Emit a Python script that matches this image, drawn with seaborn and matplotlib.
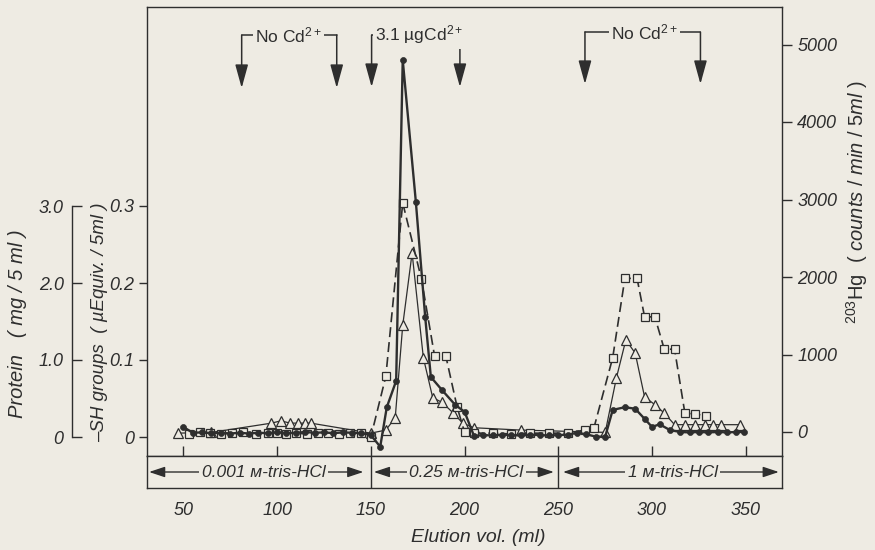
import matplotlib
matplotlib.use("Agg")
import matplotlib.pyplot as plt
import matplotlib.transforms as mtransforms
import seaborn as sns

# ---------------- data ----------------
# 203Hg radioactivity (filled circles, right axis)
hg_vol = [50, 55, 60, 65, 70, 75, 80, 85, 90, 95, 100, 105, 110, 115, 120, 125, 130, 135, 140, 145, 150, 155,
          158.5, 163.5, 167, 174, 179, 182, 188, 195, 200,
          205, 210, 215, 220, 225, 230, 235, 240, 245, 250, 255, 260, 265, 270, 275,
          279, 285.5, 291, 296, 300, 304, 309.5,
          315, 320, 325, 330, 335, 340, 345, 349]
hg_counts = [65, -10, -5, -15, -10, -20, -10, -20, -10, -15, -5, -15, -10, 0, -10, -5, -15, -5, -10, -15, -40, -190,
             320, 660, 4800, 2970, 1480, 710, 540, 350, 260,
             -50, -40, -45, -35, -40, -45, -35, -40, -45, -40, -35, -10, -30, -60, -60,
             285, 320, 300, 170, 65, 100, 25,
             0, -5, 0, -5, 0, -5, 0, 0]

# Protein (open squares, dashed)
prot_vol = [53, 59, 64, 70, 76, 82, 89, 95, 100, 105, 110, 116, 122, 127, 133, 139, 145,
            150, 158, 167, 177, 184, 190, 196, 200,
            205, 215, 225, 235, 245, 255, 264, 269,
            279, 285.5, 292, 296, 301.5, 306.5, 312, 317.5, 323, 329]
prot_mg = [0.04, 0.06, 0.05, 0.04, 0.05, 0.06, 0.04, 0.05, 0.05, 0.04, 0.05, 0.04, 0.05, 0.05, 0.04, 0.05, 0.05,
           0.0, 0.79, 3.04, 2.05, 1.05, 1.05, 0.39, 0.06,
           0.05, 0.05, 0.04, 0.05, 0.05, 0.05, 0.09, 0.12,
           1.03, 2.06, 2.06, 1.56, 1.56, 1.14, 1.14, 0.31, 0.30, 0.27]

# -SH groups (open triangles, thin line)
sh_vol = [47, 65, 97, 102, 107, 111, 115, 118, 150,
          158, 163, 167, 172, 178, 183, 188, 194, 199,
          205, 230, 275,
          281, 286, 291, 296, 301.5, 306.5,
          312, 317.5, 323, 328, 332.5, 337, 347]
sh_uequiv = [0.005, 0.006, 0.018, 0.021, 0.018, 0.018, 0.018, 0.018, 0.005,
             0.009, 0.025, 0.145, 0.239, 0.103, 0.051, 0.045, 0.031, 0.018,
             0.012, 0.009, 0.006,
             0.077, 0.126, 0.109, 0.052, 0.042, 0.031,
             0.016, 0.016, 0.016, 0.016, 0.016, 0.016, 0.016]

x_ticks = [50, 100, 150, 200, 250, 300, 350]
sh_ticks = [0, 0.1, 0.2, 0.3]
sh_ticklabels = ["0", "0.1", "0.2", "0.3"]
prot_ticks = [0, 1, 2, 3]
prot_ticklabels = ["0", "1.0", "2.0", "3.0"]
hg_ticks = [0, 1000, 2000, 3000, 4000, 5000]
hg_ticklabels = ["0", "1000", "2000", "3000", "4000", "5000"]

buffer_dividers = [150, 250]
buffer_labels = ["0.001 м-tris-HCl", "0.25 м-tris-HCl", "1 м-tris-HCl"]
buffer_arrows = [(31.7, 92.7, 146.0), (151.6, 201.0, 247.6), (252.5, 311.0, 367.6)]

cd_labels = [r"No Cd$^{\mathrm{2+}}$", r"3.1 µgCd$^{\mathrm{2+}}$", r"No Cd$^{\mathrm{2+}}$"]
cd_ranges = [(81.1, 105.9, 131.8), (150.4, 176.0, 197.5), (264.2, 296.0, 325.8)]

# ---------------- style ----------------
BG = "#eeebe3"
INK = "#2e2e2e"
sns.set_style("white")
plt.rcParams.update({
    "font.family": ["Liberation Sans", "DejaVu Sans"],
    "mathtext.fontset": "custom",
    "mathtext.rm": "Liberation Sans",
    "mathtext.it": "Liberation Sans:italic",
    "mathtext.bf": "Liberation Sans:bold",
    "axes.edgecolor": INK,
    "axes.linewidth": 1.0,
    "xtick.color": INK,
    "ytick.color": INK,
    "text.color": INK,
})

W, H = 875, 550
fig = plt.figure(figsize=(W / 100, H / 100), dpi=100, facecolor=BG)


def fx(px):
    return px / W


def fy(py):
    return 1 - py / H


L, R, T, B, BB = 147, 782, 7, 456, 488
rect = [fx(L), fy(B), fx(R) - fx(L), fy(T) - fy(B)]
XLIM = (30.6, 369.3)

# main axis: -SH groups scale (left box edge)
ax = fig.add_axes(rect)
ax.set_facecolor(BG)
ax.set_xlim(*XLIM)
sh_lo, sh_hi = -(B - 437) / 770.0, (437 - T) / 770.0
ax.set_ylim(sh_lo, sh_hi)

# protein axis (detached left spine)
ax_p = fig.add_axes(rect)
ax_p.patch.set_visible(False)
ax_p.set_xlim(*XLIM)
ax_p.set_ylim(sh_lo * 10, sh_hi * 10)

# Hg axis (right box edge)
ax_h = fig.add_axes(rect)
ax_h.patch.set_visible(False)
ax_h.set_xlim(*XLIM)
hg_lo, hg_hi = -(B - 432) / 0.0775, (432 - T) / 0.0775
ax_h.set_ylim(hg_lo, hg_hi)

# ---------------- data ----------------
sns.lineplot(x=sh_vol, y=sh_uequiv, ax=ax, sort=False, estimator=None,
             color=INK, lw=0.9, marker="^", markersize=6.5,
             markerfacecolor=BG, markeredgecolor=INK, markeredgewidth=0.9, zorder=3)
sns.lineplot(x=prot_vol, y=prot_mg, ax=ax_p, sort=False, estimator=None,
             color=INK, lw=1.2, linestyle=(0, (6, 3)), marker="s", markersize=5.2,
             markerfacecolor=BG, markeredgecolor=INK, markeredgewidth=0.9, zorder=3)
sns.lineplot(x=hg_vol, y=hg_counts, ax=ax_h, sort=False, estimator=None,
             color=INK, lw=1.7, marker="o", markersize=4.3,
             markerfacecolor=INK, markeredgecolor=INK, markeredgewidth=0.5, zorder=4)

for a in (ax, ax_p, ax_h):
    a.set_xlim(*XLIM)
ax.set_ylim(sh_lo, sh_hi)
ax_p.set_ylim(sh_lo * 10, sh_hi * 10)
ax_h.set_ylim(hg_lo, hg_hi)

# main axis ticks
ax.set_xticks(x_ticks)
ax.tick_params(axis="x", direction="in", length=7, width=1.0, labelbottom=False, bottom=True, top=False)
ax.set_yticks(sh_ticks)
ax.set_yticklabels(sh_ticklabels, fontstyle="italic", fontsize=13)
ax.tick_params(axis="y", direction="out", length=6, width=1.0, pad=3, left=True, right=False)
for s in ax.spines.values():
    s.set_visible(True)
    s.set_color(INK)
ax.set_xlabel("")
ax.set_ylabel("")

# protein axis
for k, s in ax_p.spines.items():
    s.set_visible(k == "left")
ax_p.spines["left"].set_position(("outward", 54))
ax_p.spines["left"].set_bounds(0, 3)
ax_p.set_yticks(prot_ticks)
ax_p.set_yticklabels(prot_ticklabels, fontstyle="italic", fontsize=13)
ax_p.tick_params(axis="y", direction="in", length=7, width=1.0, pad=6, left=True, right=False)
ax_p.set_xticks([])
ax_p.set_xlabel("")
ax_p.set_ylabel("")

# Hg axis
for k, s in ax_h.spines.items():
    s.set_visible(False)
ax_h.yaxis.tick_right()
ax_h.set_yticks(hg_ticks)
ax_h.set_yticklabels(hg_ticklabels, fontstyle="italic", fontsize=13)
ax_h.tick_params(axis="y", direction="out", length=7, width=1.0, pad=4, right=True, left=False)
ax_h.set_xticks([])
ax_h.set_xlabel("")
ax_h.set_ylabel("")

# ---------------- top Cd2+ annotations ----------------
trans = mtransforms.blended_transform_factory(ax.transData, ax.transAxes)
bracket_y = [(B - 35) / (B - T), (B - 35) / (B - T), (B - 32) / (B - T)]
tip_y = [(B - 88) / (B - T), (B - 87) / (B - T), (B - 84) / (B - T)]
for lab, (x1, xc, x2), yb, yt in zip(cd_labels, cd_ranges, bracket_y, tip_y):
    ax.plot([x1, x2], [yb, yb], transform=trans, color=INK, lw=1.1, zorder=5, clip_on=False)
    for xx in (x1, x2):
        ax.annotate("", xy=(xx, yt), xytext=(xx, yb), xycoords=trans, textcoords=trans,
                    arrowprops=dict(arrowstyle="-|>,head_length=0.8,head_width=0.22",
                                    color=INK, lw=1.1, shrinkA=0, shrinkB=0,
                                    mutation_scale=18), zorder=5)
    ax.text(xc, yb, lab, transform=trans, ha="center", va="center", fontsize=12.5,
            zorder=6, bbox=dict(boxstyle="square,pad=0.12", facecolor=BG, edgecolor="none"))

# ---------------- buffer band ----------------
axb = fig.add_axes([fx(L), fy(BB), fx(R) - fx(L), fy(B) - fy(BB)])
axb.set_facecolor(BG)
axb.set_xlim(*XLIM)
axb.set_ylim(0, 1)
axb.set_yticks([])
axb.set_xticks(x_ticks)
axb.set_xticklabels([str(v) for v in x_ticks], fontstyle="italic", fontsize=13)
axb.tick_params(axis="x", direction="out", length=7, width=1.0, pad=3)
for s in axb.spines.values():
    s.set_visible(True)
    s.set_color(INK)
for d in buffer_dividers:
    axb.axvline(d, color=INK, lw=1.0)
for lab, (xl, xc, xr) in zip(buffer_labels, buffer_arrows):
    for tip in (xl, xr):
        axb.annotate("", xy=(tip, 0.5), xytext=(xc, 0.5),
                     arrowprops=dict(arrowstyle="-|>,head_length=0.6,head_width=0.2",
                                     color=INK, lw=1.0, shrinkA=0, shrinkB=0, mutation_scale=16))
    axb.text(xc, 0.47, lab, ha="center", va="center", fontsize=12.5, fontstyle="italic",
             bbox=dict(boxstyle="square,pad=0.15", facecolor=BG, edgecolor="none"))

# ---------------- axis titles ----------------
fig.text(fx(478), fy(537), "Elution vol. (ml)", ha="center", va="center",
         fontsize=14, fontstyle="italic")
fig.text(fx(18), fy(324), "Protein   ( mg / 5 ml )", rotation=90, ha="center", va="center",
         fontsize=14.5, fontstyle="italic")
fig.text(fx(100), fy(322), "–SH groups  ( µEquiv. / 5ml )", rotation=90, ha="center", va="center",
         fontsize=13.5, fontstyle="italic")
fig.text(fx(857), fy(202), r"$^{\mathrm{203}}$Hg  ( $\mathit{counts}$ / $\mathit{min}$ / $\mathit{5ml}$ )",
         rotation=90, ha="center", va="center", fontsize=14.5)

fig.savefig("out.png", dpi=100, facecolor=BG)
